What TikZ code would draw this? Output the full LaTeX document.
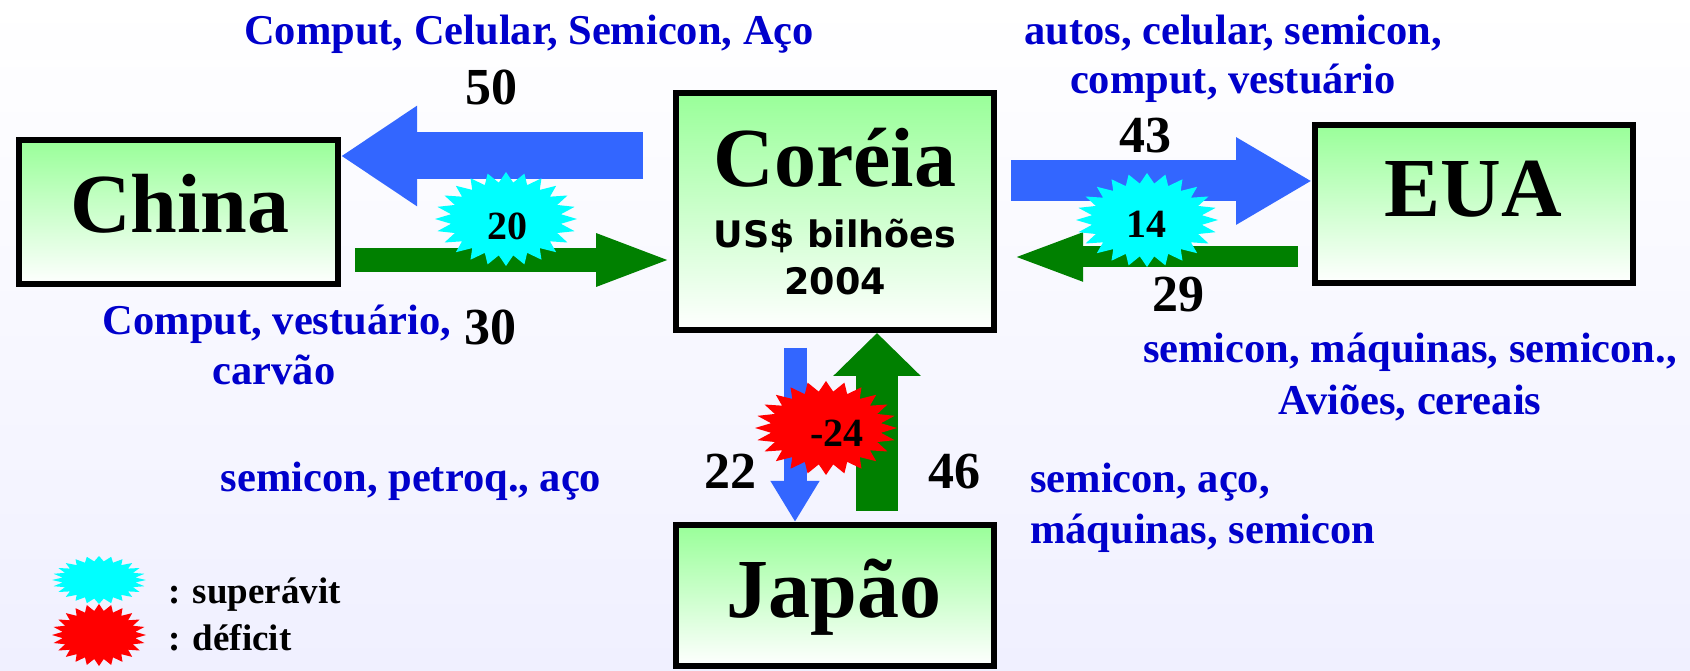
\documentclass[tikz,border=0pt]{standalone}
\usepackage{amsmath}
\usepackage{fontspec}
\setmainfont{Liberation Serif}
\newfontfamily\verdana{DejaVu Sans}
\usepackage{tikz}
\usepackage{xcolor}
\usetikzlibrary{shapes, positioning, arrows.meta}

\definecolor{arrblue}{RGB}{51,102,255}
\definecolor{arrgreen}{RGB}{0,128,0}
\definecolor{txtblue}{RGB}{0,0,204}
\definecolor{boxgreen}{RGB}{153,255,153}
\definecolor{bglav}{RGB}{240,240,255}
\definecolor{surpl}{RGB}{0,255,255}
\definecolor{defic}{RGB}{255,0,0}

\tikzset{
    country/.style={draw, line width=6pt, rectangle, top color=boxgreen, bottom color=white, minimum width=318pt, inner sep=0pt},
    bigname/.style={font=\fontsize{84}{84}\selectfont\bfseries, anchor=base, inner sep=0pt},
    amount/.style={font=\fontsize{52}{52}\selectfont\bfseries, anchor=base, inner sep=0pt},
    goods/.style={font=\fontsize{42.5}{50}\selectfont\bfseries, text=txtblue, anchor=base, inner sep=0pt},
    balance/.style={font=\fontsize{40}{40}\selectfont\bfseries, anchor=base, inner sep=0pt},
    legendtxt/.style={font=\fontsize{37}{37}\selectfont\bfseries, anchor=base west, inner sep=0pt},
    bigarrow/.style n args={3}{line width=#1, -{Triangle[length=#2, width=#3]}}
}

\newcommand{\burst}[4]{\fill[#4, shift={#1}] plot[samples at={0,...,47}, variable=\k]
    ({#2*(1-0.22*mod(\k,2))*cos(7.5*\k)}, {#3*(1-0.22*mod(\k,2))*sin(7.5*\k)}) -- cycle;}

\begin{document}
\begin{tikzpicture}[x=1pt, y=1pt]
        \useasboundingbox (0,0) rectangle (1690,670);
        \fill[top color=white, bottom color=bglav] (0,0) rectangle (1690,670);

        \node[country, minimum width=319pt, minimum height=144pt] (china) at (178.5,458) {};
        \node[country, minimum height=237pt] (korea) at (835,458.5) {};
        \node[country, minimum height=158pt] (usa) at (1474,466) {};
        \node[country, minimum height=141pt] (japan) at (835,74.5) {};

        \coordinate (k50) at (643,514);
        \draw[arrblue, bigarrow={47pt}{76pt}{95pt}] (k50) -- (china.east |- k50);
        \coordinate (c30) at (355,410);
        \draw[arrgreen, bigarrow={24pt}{77pt}{47pt}] (c30) -- (korea.west |- c30);

        \coordinate (k43) at (1011,489);
        \draw[arrblue, bigarrow={41pt}{76pt}{82pt}] (k43) -- (usa.west |- k43);
        \coordinate (u29) at (1298,413);
        \coordinate (k29) at (1011,413);
        \draw[arrgreen, bigarrow={21pt}{72pt}{43pt}] (u29) -- (k29);

        \coordinate (k22) at (795,322);
        \draw[arrblue, bigarrow={23pt}{41pt}{46pt}] (k22) -- (k22 |- japan.north);
        \coordinate (j46) at (877,159);
        \draw[arrgreen, bigarrow={42pt}{43pt}{85pt}] (j46) -- (j46 |- korea.south);

        \burst{(506,451)}{71}{47}{surpl}
        \burst{(1147,450)}{71}{47}{surpl}
        \burst{(826,242)}{71}{47}{defic}
        \burst{(99,90)}{47}{24}{surpl}
        \burst{(99,35)}{47}{31}{defic}

        \node[bigname] (chinaname) at (180,437) {China};
        \node[bigname] (koreaname) at (835,483) {Coréia};
        \node[bigname] (usaname) at (1473,453) {EUA};
        \node[bigname] (japanname) at (834,53) {Japão};
        \node[font=\verdana\fontsize{36.5}{36.5}\selectfont\bfseries, anchor=base, inner sep=0pt] (unit) at (835,422) {US\$ bilhões};
        \node[font=\verdana\fontsize{36.5}{36.5}\selectfont\bfseries, anchor=base, inner sep=0pt] (year) at (835,375) {2004};

        \node[balance] (s20) at (507,430) {20};
        \node[balance] (s14) at (1146,432) {14};
        \node[balance] (s24) at (837,223) {-24};

        \node[goods] (cn1) at (529,625) {Comput, Celular, Semicon, Aço};
        \node[amount] (v50) at (491,565) {50};
        \node[goods] (cn2) at (277,335) {Comput, vestuário,};
        \node[goods] (cn3) at (274,285) {carvão};
        \node[amount] (v30) at (490,325) {30};

        \node[goods] (us1) at (1233,625) {autos, celular, semicon,};
        \node[goods] (us2) at (1233,576) {comput, vestuário};
        \node[amount] (v43) at (1145,517) {43};
        \node[amount] (v29) at (1178,358) {29};
        \node[goods] (us3) at (1410,307) {semicon, máquinas, semicon.,};
        \node[goods] (us4) at (1410,255) {Aviões, cereais};

        \node[goods] (jp1) at (411,178) {semicon, petroq., aço};
        \node[amount] (v22) at (730,182) {22};
        \node[amount] (v46) at (954,182) {46};
        \node[goods, anchor=base west] (jp2) at (1030,177) {semicon, aço,};
        \node[goods, anchor=base west] (jp3) at (1030,127) {máquinas, semicon};

        \node[legendtxt] (surplus) at (168,67) {: superávit};
        \node[legendtxt] (deficit) at (168,20) {: déficit};
    \end{tikzpicture}
\end{document}
